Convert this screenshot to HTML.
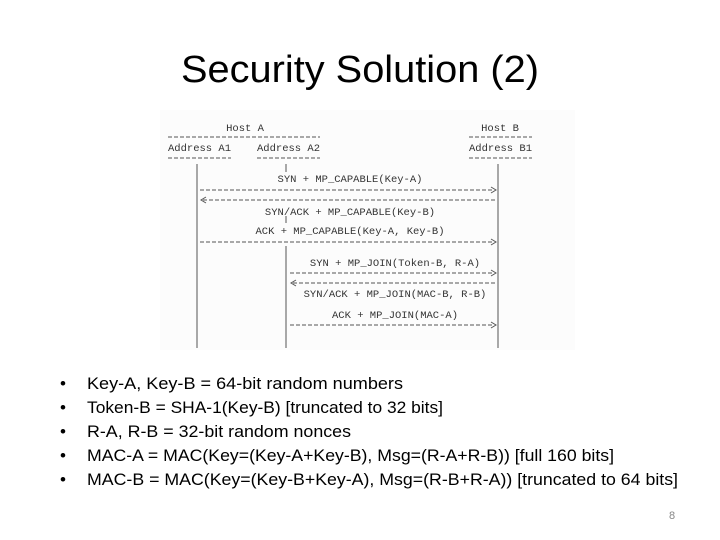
<!DOCTYPE html>
<html><head><meta charset="utf-8"><style>
html,body{margin:0;padding:0;background:#fff;}
svg{display:block}
</style></head><body>
<svg width="720" height="540" viewBox="0 0 720 540" xmlns="http://www.w3.org/2000/svg">
<rect width="720" height="540" fill="#fff"/>
<text x="360" y="82" text-anchor="middle" font-family="Liberation Sans, sans-serif" font-size="38" fill="#000" textLength="358" lengthAdjust="spacingAndGlyphs">Security Solution (2)</text>
<rect x="160" y="110" width="415" height="240" fill="#fcfcfc"/>
<g font-family="Liberation Mono, monospace" font-size="10.5" fill="#333">
<text x="245" y="131" text-anchor="middle">Host A</text>
<text x="500" y="131" text-anchor="middle">Host B</text>
<text x="168" y="151" textLength="63">Address A1</text>
<text x="257" y="151" textLength="63">Address A2</text>
<text x="469" y="151" textLength="63">Address B1</text>
<text x="350" y="182" text-anchor="middle">SYN + MP_CAPABLE(Key-A)</text>
<text x="350" y="215" text-anchor="middle">SYN/ACK + MP_CAPABLE(Key-B)</text>
<text x="350" y="234" text-anchor="middle">ACK + MP_CAPABLE(Key-A, Key-B)</text>
<text x="395" y="266" text-anchor="middle">SYN + MP_JOIN(Token-B, R-A)</text>
<text x="395" y="297" text-anchor="middle">SYN/ACK + MP_JOIN(MAC-B, R-B)</text>
<text x="395" y="318" text-anchor="middle">ACK + MP_JOIN(MAC-A)</text>
</g>
<g stroke="#555" stroke-width="1" fill="none">
<g stroke-dasharray="4,2">
<line x1="168" y1="137" x2="320" y2="137"/>
<line x1="469" y1="137" x2="532" y2="137"/>
<line x1="168" y1="158" x2="231" y2="158"/>
<line x1="257" y1="158" x2="320" y2="158"/>
<line x1="469" y1="158" x2="532" y2="158"/>
<line x1="200" y1="190" x2="494" y2="190"/>
<line x1="203" y1="200" x2="497" y2="200"/>
<line x1="200" y1="242" x2="494" y2="242"/>
<line x1="290" y1="273" x2="494" y2="273"/>
<line x1="293" y1="283" x2="497" y2="283"/>
<line x1="290" y1="325" x2="494" y2="325"/>
</g>
<line x1="197" y1="164" x2="197" y2="348"/>
<line x1="498" y1="164" x2="498" y2="348"/>
<line x1="286" y1="164" x2="286" y2="172"/>
<line x1="286" y1="216" x2="286" y2="223"/>
<line x1="286" y1="246" x2="286" y2="348"/>
<path d="M491 187 L496 190 L491 193"/>
<path d="M206 197 L201 200 L206 203"/>
<path d="M491 239 L496 242 L491 245"/>
<path d="M491 270 L496 273 L491 276"/>
<path d="M296 280 L291 283 L296 286"/>
<path d="M491 322 L496 325 L491 328"/>
</g>
<g font-family="Liberation Sans, sans-serif" font-size="17" fill="#000">
<text x="60" y="389">•</text><text x="87" y="389" textLength="316" lengthAdjust="spacingAndGlyphs">Key-A, Key-B = 64-bit random numbers</text>
<text x="60" y="413">•</text><text x="87" y="413" textLength="356" lengthAdjust="spacingAndGlyphs">Token-B = SHA-1(Key-B) [truncated to 32 bits]</text>
<text x="60" y="437">•</text><text x="87" y="437" textLength="264" lengthAdjust="spacingAndGlyphs">R-A, R-B = 32-bit random nonces</text>
<text x="60" y="461">•</text><text x="87" y="461" textLength="527" lengthAdjust="spacingAndGlyphs">MAC-A = MAC(Key=(Key-A+Key-B), Msg=(R-A+R-B)) [full 160 bits]</text>
<text x="60" y="485">•</text><text x="87" y="485" textLength="591" lengthAdjust="spacingAndGlyphs">MAC-B = MAC(Key=(Key-B+Key-A), Msg=(R-B+R-A)) [truncated to 64 bits]</text>
</g>
<text x="672" y="519" text-anchor="middle" font-family="Liberation Sans, sans-serif" font-size="11" fill="#888">8</text>
</svg>
</body></html>
